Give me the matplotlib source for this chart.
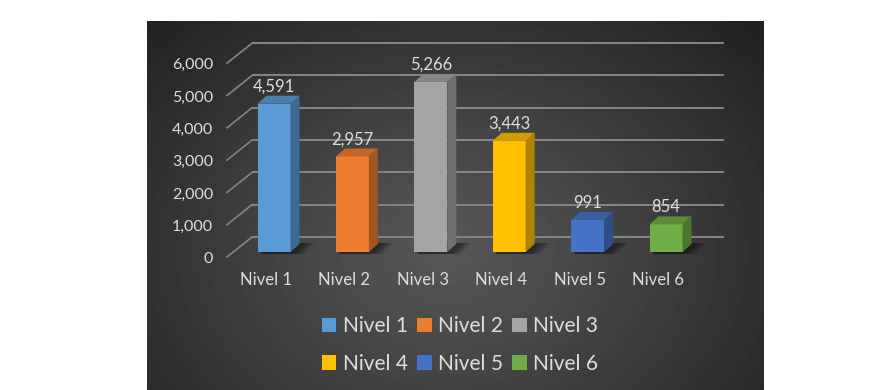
import numpy as np
import matplotlib.pyplot as plt
from matplotlib.patches import Polygon, Patch
from matplotlib.colors import to_rgb

categories = ['Nivel 1', 'Nivel 2', 'Nivel 3', 'Nivel 4', 'Nivel 5', 'Nivel 6']
values = [4591, 2957, 5266, 3443, 991, 854]
yticks = [0, 1000, 2000, 3000, 4000, 5000, 6000]
colors = ['#5B9BD5', '#ED7D31', '#A5A5A5', '#FFC000', '#4472C4', '#70AD47']

plt.rcParams['font.family'] = ['Lato', 'DejaVu Sans']
txt = '#DEDEDE'
grid = '#868686'

W, H = 873, 390
fig = plt.figure(figsize=(W / 100, H / 100), dpi=100)
fig.patch.set_facecolor('white')

# dark panel with a soft radial gradient
bg = fig.add_axes([147 / W, 0, (764 - 147) / W, (H - 21) / H])
yy, xx = np.mgrid[0:369, 0:617]
d = np.sqrt(((xx - 300) / 420.0) ** 2 + ((yy - 230) / 330.0) ** 2)
shade = 0.34 - 0.21 * np.clip(d, 0, 1) ** 1.1
bg.imshow(shade, cmap='gray', vmin=0, vmax=1, aspect='auto', interpolation='bilinear')
bg.axis('off')

# main axes over the whole figure, units: categories / values
ax = fig.add_axes([0, 0, 1, 1])
ax.patch.set_alpha(0)
ax.axis('off')
px_x = 78.4      # pixels per category
px_v = 0.0323    # pixels per value unit
x0, v0 = 274, 138
ax.set_xlim(-x0 / px_x, (W - x0) / px_x)
ax.set_ylim(-v0 / px_v, (H - v0) / px_v)

def hx(p):
    return p / px_x

def hv(p):
    return p / px_v

w = hx(33)
dx, dy = hx(9), hv(8)
back_l, back_r, back_dy = hx(-22), hx(450), hv(15)
front_l, front_dy = hx(-47), hv(-5)

# gridlines on back wall + left wall diagonals
for t in yticks:
    ax.plot([back_l, back_r], [t + back_dy, t + back_dy], color=grid, lw=1.4, zorder=1,
            solid_capstyle='butt')
    ax.plot([front_l, back_l], [t + front_dy, t + back_dy], color=grid, lw=1.2, zorder=1)
    ax.text(front_l - hx(14), t + front_dy - hv(2), f'{t:,}', color=txt, fontsize=11.5,
            ha='right', va='center', zorder=5)

xs = np.arange(len(values))
for i, (x, v, c) in enumerate(zip(xs, values, colors)):
    rgb = np.array(to_rgb(c))
    xl, xr = x - w / 2, x + w / 2
    # floor shadow
    for k in range(4):
        ax.add_patch(Polygon([(xl + hx(3), -hv(2)), (xr + hx(4 + 3 * k), -hv(2)),
                              (xr + dx + hx(6 + 3 * k), dy + hv(1)), (xl + dx, dy + hv(1))],
                             closed=True, facecolor='black', edgecolor='none', alpha=0.14, zorder=2))
    ax.bar(x, v, width=w, color=c, zorder=3, linewidth=0)
    ax.add_patch(Polygon([(xr, 0), (xr + dx, dy), (xr + dx, v + dy), (xr, v)],
                         closed=True, facecolor=rgb * 0.68, edgecolor='none', zorder=3))
    ax.add_patch(Polygon([(xl, v), (xr, v), (xr + dx, v + dy), (xl + dx, v + dy)],
                         closed=True, facecolor=rgb * 0.82, edgecolor='none', zorder=3))
    ax.text(x, v + hv(17), f'{v:,}', color=txt, fontsize=12, ha='center', va='center', zorder=5)
    ax.text(x - hx(8), hv(-28), categories[i], color=txt, fontsize=12, ha='center',
            va='center', zorder=5)

handles = [Patch(facecolor=c, edgecolor='none', label=n) for n, c in zip(categories, colors)]
order = [0, 3, 1, 4, 2, 5]
leg = fig.legend([handles[j] for j in order], [categories[j] for j in order],
                 ncol=3, loc='center', bbox_to_anchor=(460 / W, 1 - 345 / H),
                 frameon=False, fontsize=15, labelcolor=txt,
                 handlelength=0.7, handleheight=0.7, handletextpad=0.3,
                 columnspacing=0.45, labelspacing=0.85)

fig.savefig('out.png', dpi=100)
